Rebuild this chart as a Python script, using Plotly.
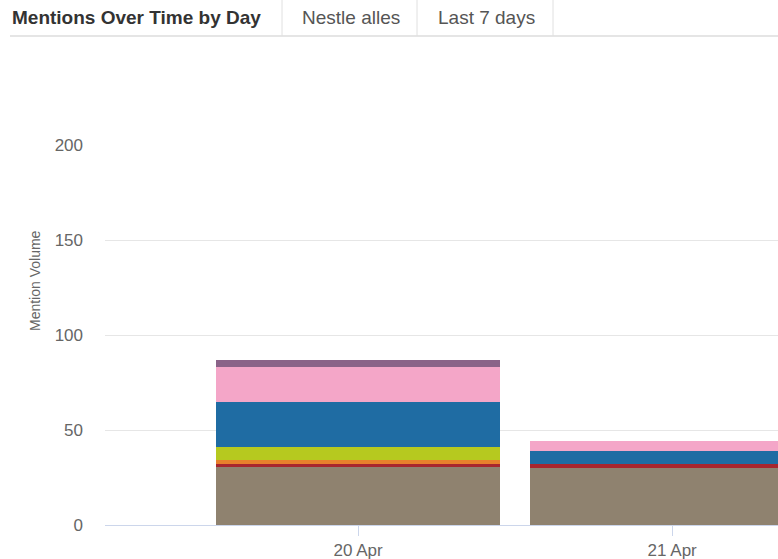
import plotly.graph_objects as go

# Daily mention volume, stacked by source (bottom to top)
days = ["20 Apr", "21 Apr"]
series_names = ["Nieuws", "Forums", "Blogs", "Video", "Twitter", "Facebook", "Overig"]
series_colors = ["#8f826f", "#a8262e", "#e8802c", "#b6c91f", "#1f6ca3", "#f4a6c8", "#8a6388"]
series_values = [
    [31, 30],  # Nieuws
    [1, 2],    # Forums
    [2, 0],    # Blogs
    [7, 0],    # Video
    [24, 7],   # Twitter
    [18, 5],   # Facebook
    [4, 0],    # Overig
]
y_ticks = [0, 50, 100, 150, 200]

W, H = 778, 559
L, R, T, B = 105, 0, 145, 34
PW, PH = W - L - R, H - T - B


def px(x):
    return (x - L) / PW


def py(y):
    return (H - B - y) / PH


fig = go.Figure()
for name, color, vals in zip(series_names, series_colors, series_values):
    fig.add_trace(go.Bar(
        x=days, y=vals, name=name,
        marker=dict(color=color, line=dict(width=0)),
    ))

fig.update_layout(
    width=W, height=H,
    margin=dict(l=L, r=R, t=T, b=B, pad=0),
    barmode="stack",
    bargap=0.096,
    showlegend=False,
    plot_bgcolor="white",
    paper_bgcolor="white",
    font=dict(family="Arial, Liberation Sans, sans-serif", color="#666666"),
)

fig.update_xaxes(
    type="category",
    range=[-0.806, 1.337],
    showgrid=False,
    showline=True, linecolor="#ccd6eb", linewidth=1,
    ticks="outside", ticklen=10, tickcolor="#ccd6eb",
    tickfont=dict(size=17, color="#666666"),
    fixedrange=True,
)
fig.update_yaxes(
    range=[0, 200],
    tickvals=y_ticks,
    showgrid=True, gridcolor="#e6e6e6", gridwidth=1,
    zeroline=False,
    showline=False,
    ticks="",
    ticklabelstandoff=21,
    tickfont=dict(size=17, color="#666666"),
    fixedrange=True,
)

# y-axis title
fig.add_annotation(
    text="Mention Volume", textangle=-90,
    xref="paper", yref="paper", x=px(35), y=py(281),
    xanchor="center", yanchor="middle", showarrow=False,
    font=dict(size=14, color="#666666"),
)

# header bar: title and filter tabs
header_y = py(18)
fig.add_annotation(
    text="<b>Mentions Over Time by Day</b>",
    xref="paper", yref="paper", x=px(10), y=header_y,
    xanchor="left", yanchor="middle", showarrow=False,
    font=dict(size=19, color="#333333"),
)
for label, xl in [("Nestle alles", 300), ("Last 7 days", 436)]:
    fig.add_annotation(
        text=label,
        xref="paper", yref="paper", x=px(xl), y=header_y,
        xanchor="left", yanchor="middle", showarrow=False,
        font=dict(size=19, color="#555555"),
    )

shapes = [
    dict(type="line", xref="paper", yref="paper",
         x0=px(10), x1=px(W), y0=py(36), y1=py(36),
         line=dict(color="#dcdcdc", width=1.5)),
]
for xs in [282, 417, 553]:
    shapes.append(dict(type="line", xref="paper", yref="paper",
                       x0=px(xs), x1=px(xs), y0=py(0), y1=py(36),
                       line=dict(color="#e0e0e0", width=1)))
fig.update_layout(shapes=shapes)

fig.write_html("out.html", config={"displayModeBar": False})
